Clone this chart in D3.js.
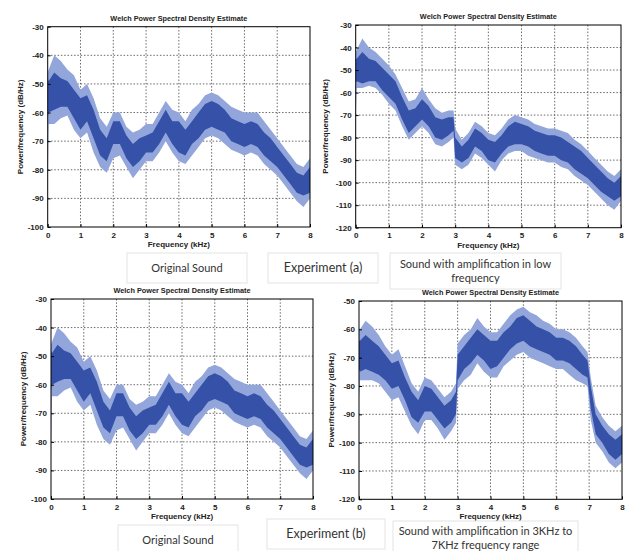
<!DOCTYPE html>
<html>
<head>
<meta charset="utf-8">
<script src="https://cdnjs.cloudflare.com/ajax/libs/d3/7.8.5/d3.min.js"></script>
<style>
  body { margin: 0; background: #fff; }
  .tick text { font-family: "Liberation Sans", Arial, sans-serif; font-size: 8px; font-weight: bold; fill: #222; }
</style>
</head>
<body>
<div id="chart"></div>
<script>
// ---- data (dB/Hz against kHz) ----
// original sound (used for both "Original Sound" panels)
const origFreq     = [0, 0.03, 0.2, 0.4, 0.6, 0.8, 1.0, 1.2, 1.4, 1.6, 1.8, 2.0, 2.2, 2.4, 2.6, 2.8, 3.0, 3.2, 3.4, 3.6, 3.8, 4.0, 4.2, 4.4, 4.6, 4.8, 5.0, 5.2, 5.4, 5.6, 5.8, 6.0, 6.2, 6.4, 6.6, 6.8, 7.0, 7.2, 7.4, 7.6, 7.8, 8.0];
const origMin      = [-85, -64, -64, -62, -61, -66, -69, -67, -74, -79, -81, -76, -75, -79, -83, -80, -77, -77, -74, -70, -74, -77, -78, -75, -72, -69, -68, -69, -71, -73, -74, -75, -74, -75, -78, -80, -82, -85, -88, -91, -93, -90];
const origCoreLow  = [-62, -60, -59, -58, -58, -62, -66, -63, -69, -75, -77, -71, -71, -76, -79, -77, -74, -74, -71, -67, -71, -74, -75, -71, -69, -66, -65, -66, -67, -70, -71, -72, -71, -72, -75, -77, -79, -82, -85, -88, -89, -88];
const origCoreHigh = [-48, -49, -46, -48, -49, -52, -55, -54, -59, -66, -69, -63, -63, -68, -71, -69, -68, -67, -63, -59, -63, -63, -66, -63, -60, -57, -56, -57, -59, -62, -63, -64, -63, -64, -67, -69, -72, -75, -78, -81, -82, -79];
const origMax      = [-46, -45, -40, -42, -45, -47, -52, -50, -55, -62, -65, -60, -60, -65, -67, -66, -64, -64, -60, -56, -59, -60, -63, -59, -57, -54, -53, -54, -56, -58, -59, -60, -60, -60, -63, -66, -69, -72, -75, -78, -79, -76];

// sound with amplification in low frequency
const lowFreq     = [0, 0.03, 0.2, 0.4, 0.6, 0.8, 1.0, 1.2, 1.4, 1.6, 1.8, 2.0, 2.2, 2.4, 2.6, 2.8, 2.95, 3.0, 3.2, 3.4, 3.6, 3.8, 4.0, 4.2, 4.4, 4.6, 4.8, 5.0, 5.2, 5.4, 5.6, 5.8, 6.0, 6.2, 6.4, 6.6, 6.8, 7.0, 7.2, 7.4, 7.6, 7.8, 8.0];
const lowMin      = [-72, -58, -58, -57, -58, -61, -65, -68, -75, -81, -78, -75, -78, -83, -84, -82, -80, -92, -94, -92, -87, -89, -92, -95, -90, -87, -86, -86, -88, -89, -90, -91, -91, -93, -94, -97, -99, -101, -104, -107, -110, -112, -108];
const lowCoreLow  = [-56, -55, -56, -55, -55, -59, -62, -65, -72, -78, -75, -72, -75, -80, -81, -79, -77, -89, -91, -89, -84, -86, -90, -91, -87, -84, -83, -83, -84, -86, -87, -88, -88, -90, -91, -94, -96, -98, -101, -104, -106, -108, -106];
const lowCoreHigh = [-45, -45, -42, -45, -46, -49, -52, -55, -62, -68, -67, -63, -66, -71, -72, -71, -71, -80, -84, -81, -76, -78, -81, -82, -79, -75, -73, -74, -75, -77, -78, -79, -79, -80, -82, -84, -86, -89, -92, -95, -98, -100, -97];
const lowMax      = [-42, -41, -36, -40, -42, -45, -48, -52, -58, -64, -63, -58, -63, -67, -69, -68, -68, -76, -81, -78, -73, -75, -78, -79, -76, -72, -70, -71, -72, -74, -75, -76, -76, -77, -78, -81, -83, -86, -89, -92, -95, -97, -94];

// sound with amplification in 3 kHz to 7 kHz frequency range
const bandFreq     = [0, 0.03, 0.2, 0.4, 0.6, 0.8, 1.0, 1.2, 1.4, 1.6, 1.8, 2.0, 2.2, 2.4, 2.6, 2.8, 2.95, 3.0, 3.2, 3.4, 3.6, 3.8, 4.0, 4.2, 4.4, 4.6, 4.8, 5.0, 5.2, 5.4, 5.6, 5.8, 6.0, 6.2, 6.4, 6.6, 6.8, 6.95, 7.05, 7.2, 7.4, 7.6, 7.8, 8.0];
const bandMin      = [-84, -78, -78, -78, -79, -82, -85, -84, -89, -94, -97, -92, -92, -95, -99, -96, -93, -81, -78, -76, -72, -75, -77, -77, -73, -71, -69, -68, -70, -71, -72, -73, -74, -74, -76, -78, -79, -80, -92, -100, -103, -107, -109, -107];
const bandCoreLow  = [-74, -75, -74, -75, -76, -78, -81, -80, -85, -91, -93, -89, -89, -92, -95, -93, -90, -78, -74, -72, -69, -71, -74, -73, -70, -67, -65, -64, -66, -67, -68, -69, -71, -71, -72, -74, -76, -77, -88, -97, -100, -104, -106, -104];
const bandCoreHigh = [-64, -64, -62, -64, -66, -69, -72, -71, -77, -82, -85, -80, -81, -84, -87, -85, -82, -69, -66, -63, -60, -62, -64, -64, -61, -59, -56, -55, -57, -59, -60, -61, -63, -63, -64, -66, -69, -71, -80, -90, -94, -97, -99, -97];
const bandMax      = [-60, -60, -57, -59, -62, -66, -69, -67, -73, -79, -82, -77, -78, -81, -84, -82, -79, -65, -62, -60, -56, -59, -61, -61, -58, -55, -53, -52, -54, -55, -57, -58, -60, -60, -61, -63, -66, -68, -77, -87, -91, -94, -96, -94];

const freqTicks = [0, 1, 2, 3, 4, 5, 6, 7, 8];
const titleText = "Welch Power Spectral Density Estimate";
const xLabelText = "Frequency (kHz)";
const yLabelText = "Power/frequency (dB/Hz)";

function rows(f, mn, cl, ch, mx) {
  return f.map((d, i) => ({f: d, min: mn[i], cl: cl[i], ch: ch[i], max: mx[i]}));
}

const panels = [
  {x: 47.7, y: 26.7, w: 262.3, h: 200.3, ymin: -100, ymax: -30, ylab: 20, data: rows(origFreq, origMin, origCoreLow, origCoreHigh, origMax)},
  {x: 355.7, y: 25, w: 265.3, h: 202.7, ymin: -120, ymax: -30, ylab: 325, data: rows(lowFreq, lowMin, lowCoreLow, lowCoreHigh, lowMax)},
  {x: 51, y: 299, w: 262, h: 200, ymin: -100, ymax: -30, ylab: 23, data: rows(origFreq, origMin, origCoreLow, origCoreHigh, origMax)},
  {x: 359, y: 301, w: 263, h: 198.3, ymin: -120, ymax: -50, ylab: 331, data: rows(bandFreq, bandMin, bandCoreLow, bandCoreHigh, bandMax)}
];

const captions = [
  {x: 127, y: 253, w: 120, h: 30, lines: ["Original Sound"], size: 11},
  {x: 268, y: 253, w: 110, h: 30, lines: ["Experiment (a)"], size: 12.5},
  {x: 390, y: 253, w: 171, h: 36, lines: ["Sound with amplification in low", "frequency"], size: 11},
  {x: 118, y: 525, w: 120, h: 30, lines: ["Original Sound"], size: 11},
  {x: 267, y: 519, w: 118, h: 30, lines: ["Experiment (b)"], size: 12.5},
  {x: 393, y: 521, w: 185, h: 34, lines: ["Sound with amplification in 3KHz to", "7KHz frequency range"], size: 11}
];

const svg = d3.select("#chart").append("svg")
  .attr("width", 626)
  .attr("height", 551);

panels.forEach(function(p, i) {
  const x = d3.scaleLinear().domain([0, 8]).range([0, p.w]);
  const y = d3.scaleLinear().domain([p.ymin, p.ymax]).range([p.h, 0]);
  const yTicks = d3.range(p.ymin, p.ymax + 1, 10);

  const g = svg.append("g").attr("transform", `translate(${p.x},${p.y})`);

  g.append("clipPath").attr("id", "clip" + i)
    .append("rect").attr("width", p.w).attr("height", p.h);

  // dotted grid
  g.append("g").selectAll("line")
    .data(freqTicks.slice(1, -1)).join("line")
      .attr("x1", d => x(d)).attr("x2", d => x(d))
      .attr("y1", 0).attr("y2", p.h);
  g.append("g").selectAll("line")
    .data(yTicks.slice(1, -1)).join("line")
      .attr("x1", 0).attr("x2", p.w)
      .attr("y1", d => y(d)).attr("y2", d => y(d));
  g.selectAll("line")
    .style("stroke", "#444")
    .style("stroke-width", 0.8)
    .style("stroke-dasharray", "1.5,1.8");

  const plot = g.append("g").attr("clip-path", `url(#clip${i})`);

  // spikes of the estimate
  plot.append("path")
    .datum(p.data)
    .attr("d", d3.area().x(d => x(d.f)).y0(d => y(d.min)).y1(d => y(d.max)))
    .style("fill", "#93a6db");

  // dense core of the estimate
  plot.append("path")
    .datum(p.data)
    .attr("d", d3.area().x(d => x(d.f)).y0(d => y(d.cl)).y1(d => y(d.ch)))
    .style("fill", "#3552a8");

  // axes
  const xAxis = g.append("g")
    .attr("transform", `translate(0,${p.h})`)
    .call(d3.axisBottom(x).tickValues(freqTicks).tickFormat(d3.format("d")).tickSizeInner(-3).tickSizeOuter(0).tickPadding(5));
  const yAxis = g.append("g")
    .call(d3.axisLeft(y).tickValues(yTicks).tickFormat(d3.format("d")).tickSizeInner(-3).tickSizeOuter(0).tickPadding(4));
  [xAxis, yAxis].forEach(a => {
    a.select(".domain").remove();
    a.selectAll(".tick line").style("stroke", "#000");
  });
  yAxis.selectAll(".tick text").text(d => d === 0 ? "0" : "-" + Math.abs(d));

  g.append("rect")
    .attr("width", p.w).attr("height", p.h)
    .style("fill", "none").style("stroke", "#000").style("stroke-width", 1);

  g.append("text")
    .attr("x", p.w / 2).attr("y", -6)
    .attr("text-anchor", "middle")
    .style("font-family", "Liberation Sans, Arial, sans-serif")
    .style("font-size", "7.3px").style("font-weight", "bold").style("fill", "#222")
    .text(titleText);

  g.append("text")
    .attr("x", p.w / 2).attr("y", p.h + 20)
    .attr("text-anchor", "middle")
    .style("font-family", "Liberation Sans, Arial, sans-serif")
    .style("font-size", "8px").style("font-weight", "bold").style("fill", "#222")
    .text(xLabelText);

  svg.append("text")
    .attr("transform", `translate(${p.ylab},${p.y + p.h / 2}) rotate(-90)`)
    .attr("text-anchor", "middle")
    .attr("dy", "0.35em")
    .style("font-family", "Liberation Sans, Arial, sans-serif")
    .style("font-size", "8px").style("font-weight", "bold").style("fill", "#222")
    .text(yLabelText);
});

// caption boxes under the plots
captions.forEach(function(c) {
  const g = svg.append("g").attr("transform", `translate(${c.x},${c.y})`);
  g.append("rect")
    .attr("width", c.w).attr("height", c.h)
    .style("fill", "#fff").style("stroke", "#e4e4e4").style("stroke-width", 1);
  const lh = c.size * 1.25;
  const y0 = c.h / 2 - (c.lines.length - 1) * lh / 2;
  g.selectAll("text.cap")
    .data(c.lines).join("text")
      .attr("class", "cap")
      .attr("x", c.w / 2)
      .attr("y", (d, j) => y0 + j * lh)
      .attr("dy", "0.35em")
      .attr("text-anchor", "middle")
      .style("font-family", "Lato, 'Open Sans', sans-serif")
      .style("font-size", c.size + "px")
      .style("fill", "#333")
      .text(d => d);
});
</script>
</body>
</html>
